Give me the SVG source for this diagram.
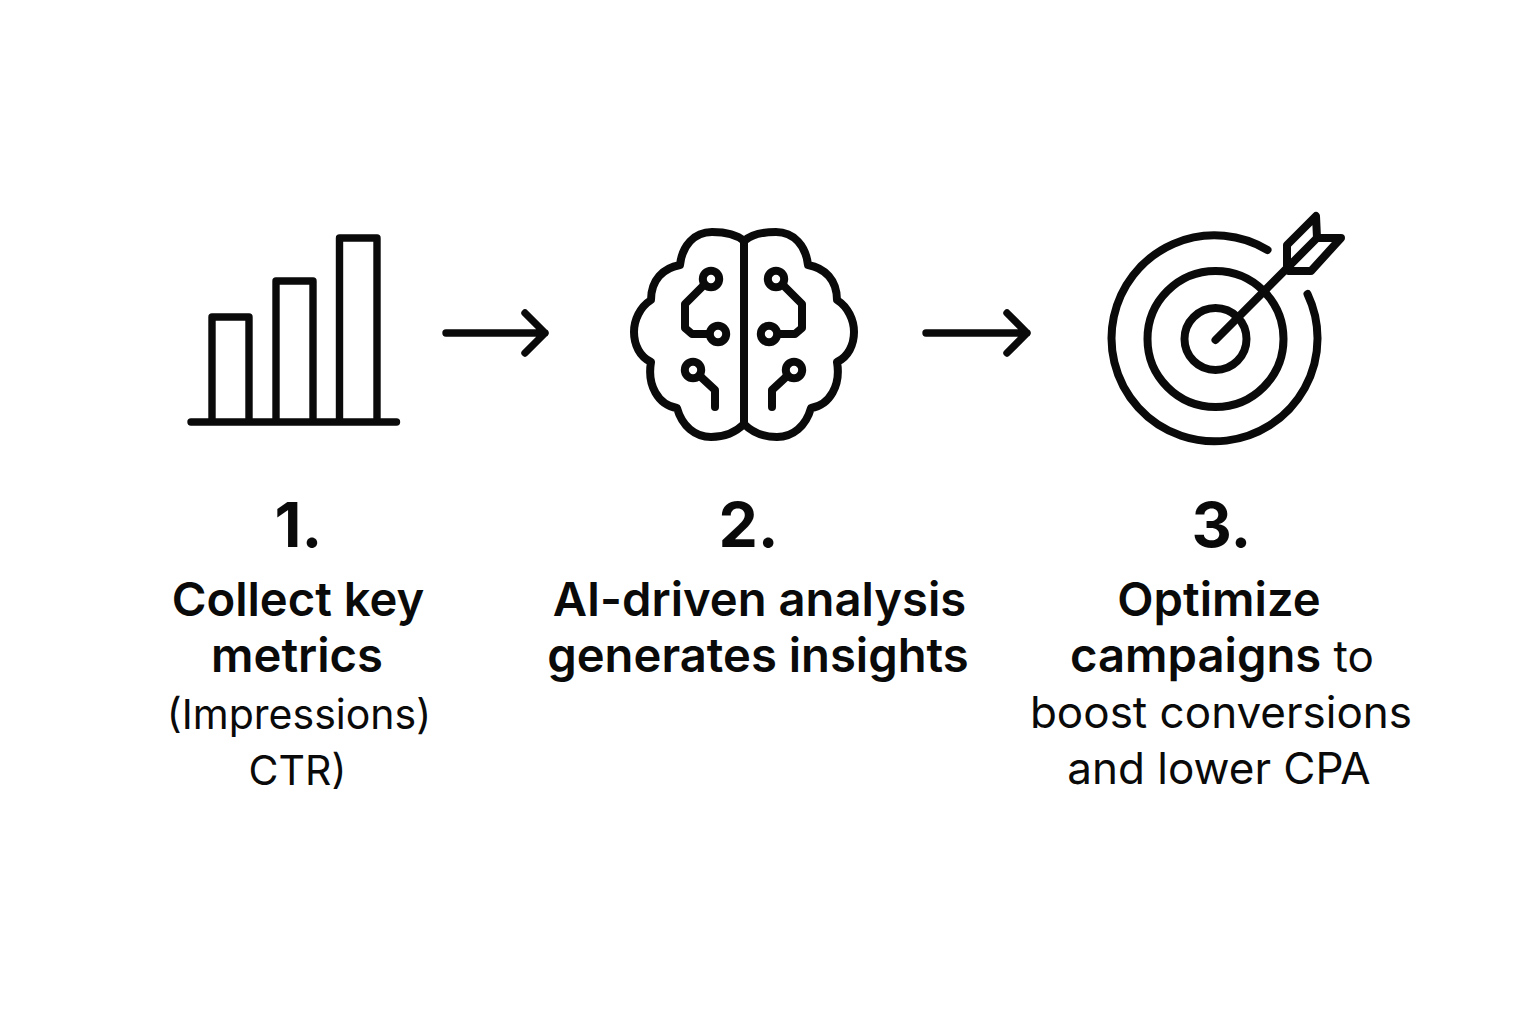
<svg xmlns="http://www.w3.org/2000/svg" width="1536" height="1024" viewBox="0 0 1536 1024">
<style>
.i{fill:none;stroke:#0a0a0a;stroke-width:8;stroke-linecap:round;stroke-linejoin:round}
.t{stroke-width:7.4}
text{font-family:Inter,"Liberation Sans",sans-serif;fill:#0a0a0a;text-anchor:middle}
.n{font-size:62.500px;font-weight:700}
.b{font-size:47.200px;font-weight:600}
.r{font-size:44px;font-weight:400}
.s{font-size:41px;font-weight:400}
</style>
<rect width="1536" height="1024" fill="#fff"/>
<g id="connectors" class="i t">
<path d="M446,333H545M525,313L545,333L525,353"/>
<path d="M926,333H1027M1007,313L1027,333L1007,353"/>
</g>
<g id="node-1">
<g class="i t">
<path d="M212,420V317H249V420M276,420V281H313V420M339.500,420V238H377V420M191,422H396.500"/>
</g>
<text class="n" x="298.500" y="547">1.</text>
<text class="b" x="298" y="616">Collect key</text>
<text class="b" x="297" y="672">metrics</text>
<text class="s" x="299" y="729">(Impressions)</text>
<text class="s" x="297.500" y="785">CTR)</text>
</g>
<g id="node-2">
<g class="i">
<path d="M744,241V424"/>
<path d="M744,241C736,234 725,232 712,232C694,232 682,246 680,265C663,268 651,280 651,300C640,307 634,320 634,332C634,345 640,357 651,362C647,385 658,405 677,408C682,426 695,437 711,437C725,437 736,432 744,424"/>
<path d="M744,241C752,234 763,232 776,232C794,232 806,246 808,265C825,268 837,280 837,300C848,307 854,320 854,332C854,345 848,357 837,362C841,385 830,405 811,408C806,426 793,437 777,437C763,437 752,432 744,424"/>
<circle cx="711" cy="279" r="8.200"/><circle cx="718" cy="334" r="8.200"/><circle cx="693" cy="370" r="8.200"/>
<circle cx="776" cy="279" r="8.200"/><circle cx="769" cy="334" r="8.200"/><circle cx="794" cy="370" r="8.200"/>
<path d="M703,286L685,304V328L692,334H709M701,377L715,390V407"/>
<path d="M784,286L802,304V328L795,334H778M786,377L772,390V407"/>
</g>
<text class="n" x="748.500" y="547">2.</text>
<text class="b" x="759.500" y="616">AI-driven analysis</text>
<text class="b" x="758" y="672">generates insights</text>
</g>
<g id="node-3">
<g class="i">
<circle cx="1215.500" cy="339" r="31"/>
<circle cx="1215.500" cy="339" r="68"/>
<path d="M1267.500,250A103,103 0 1 0 1307.500,294"/>
<path d="M1215.500,340L1317,238"/>
<path d="M1287,268V245L1316,216L1317,238H1341L1311,271H1288Z"/>
</g>
<text class="n" x="1221.500" y="547">3.</text>
<text class="b" x="1219" y="616">Optimize</text>
<text class="r" x="1222" y="672"><tspan class="b">campaigns</tspan> to</text>
<text class="r" x="1221" y="728">boost conversions</text>
<text class="r" x="1219" y="784">and lower CPA</text>
</g>
</svg>
